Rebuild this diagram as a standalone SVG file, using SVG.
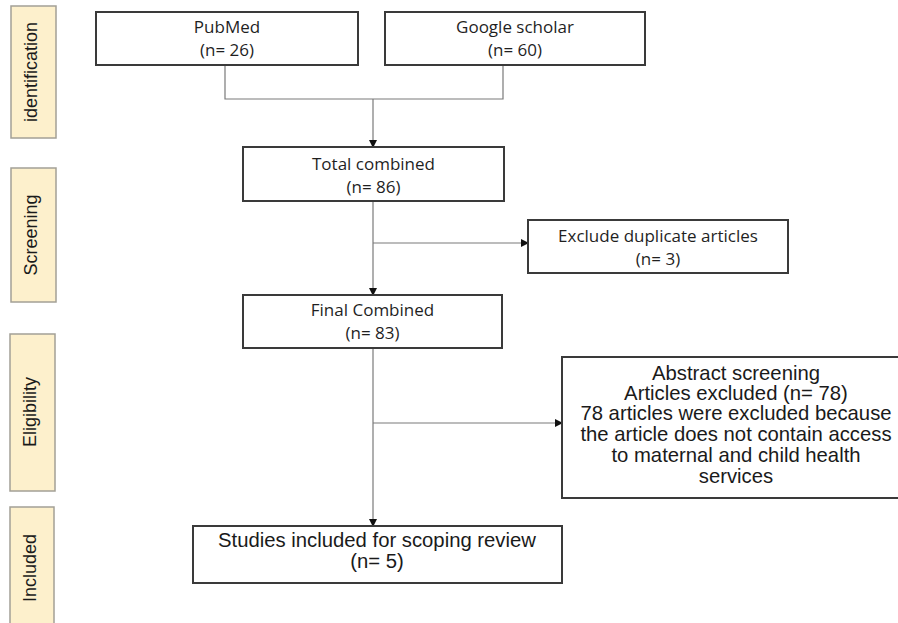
<svg xmlns="http://www.w3.org/2000/svg" width="898" height="623" viewBox="0 0 898 623">
<style>
.side{fill:#fdf0cc;stroke:#a3a096;stroke-width:1.5}
.sidet{font-family:"Liberation Sans",Arial,sans-serif;font-size:18px;fill:#1a1a1a;text-anchor:middle}
.box{fill:#fff;stroke:#3a3a3a;stroke-width:2}
.t1{font-family:"Open Sans","Noto Sans",sans-serif;font-size:17px;fill:#1f1f1f;text-anchor:middle}
.t2{font-family:"Liberation Sans",Arial,sans-serif;font-size:20.3px;fill:#1a1a1a;text-anchor:middle}
.ln{fill:none;stroke:#7a7a7a;stroke-width:1.2}
</style>
<defs>
<marker id="ah" markerWidth="8" markerHeight="8" refX="7" refY="4" orient="auto" markerUnits="userSpaceOnUse">
<path d="M0,0 L8,4 L0,8 Z" fill="#111"/>
</marker>
</defs>
<rect width="898" height="623" fill="#fff"/>

<g id="stage-identification">
<rect class="side" x="11" y="6" width="45" height="132"/>
<text class="sidet" transform="translate(37,72) rotate(-90)">identification</text>
</g>
<g id="stage-screening">
<rect class="side" x="11" y="168" width="45" height="134"/>
<text class="sidet" transform="translate(37,235) rotate(-90)">Screening</text>
</g>
<g id="stage-eligibility">
<rect class="side" x="10" y="334" width="45" height="157"/>
<text class="sidet" transform="translate(36,412) rotate(-90)">Eligibility</text>
</g>
<g id="stage-included">
<rect class="side" x="10" y="507" width="44" height="125"/>
<text class="sidet" transform="translate(36,568) rotate(-90)">Included</text>
</g>

<g id="connectors">
<polyline class="ln" points="225,65 225,99 503,99 503,65"/>
<line class="ln" x1="373" y1="99" x2="373" y2="147" marker-end="url(#ah)"/>
<line class="ln" x1="373" y1="201" x2="373" y2="295" marker-end="url(#ah)"/>
<line class="ln" x1="373" y1="243" x2="528" y2="243" marker-end="url(#ah)"/>
<line class="ln" x1="373" y1="348" x2="373" y2="526" marker-end="url(#ah)"/>
<line class="ln" x1="373" y1="423" x2="562" y2="423" marker-end="url(#ah)"/>
</g>

<g id="pubmed">
<rect class="box" x="96" y="12" width="262" height="53"/>
<text class="t1" x="227" y="33">PubMed</text>
<text class="t1" x="227" y="56">(n= 26)</text>
</g>
<g id="google-scholar">
<rect class="box" x="385" y="12" width="260" height="53"/>
<text class="t1" x="515" y="33">Google scholar</text>
<text class="t1" x="515" y="56">(n= 60)</text>
</g>
<g id="total-combined">
<rect class="box" x="243" y="147" width="261" height="54"/>
<text class="t1" x="373.5" y="170">Total combined</text>
<text class="t1" x="373.5" y="193">(n= 86)</text>
</g>
<g id="exclude-duplicates">
<rect class="box" x="528" y="220" width="260" height="53"/>
<text class="t1" x="658" y="242">Exclude duplicate articles</text>
<text class="t1" x="658" y="265">(n= 3)</text>
</g>
<g id="final-combined">
<rect class="box" x="243" y="295" width="259" height="53"/>
<text class="t1" x="372.5" y="316">Final Combined</text>
<text class="t1" x="372.5" y="339">(n= 83)</text>
</g>
<g id="abstract-screening">
<rect class="box" x="562" y="357" width="348" height="141"/>
<text class="t2" x="736" y="380">Abstract screening</text>
<text class="t2" x="736" y="400">Articles excluded (n= 78)</text>
<text class="t2" x="736" y="420">78 articles were excluded because</text>
<text class="t2" x="736" y="441">the article does not contain access</text>
<text class="t2" x="736" y="462">to maternal and child health</text>
<text class="t2" x="736" y="483">services</text>
</g>
<g id="studies-included">
<rect class="box" x="193" y="526" width="369" height="57"/>
<text class="t2" x="377" y="547">Studies included for scoping review</text>
<text class="t2" x="377" y="568">(n= 5)</text>
</g>
</svg>
